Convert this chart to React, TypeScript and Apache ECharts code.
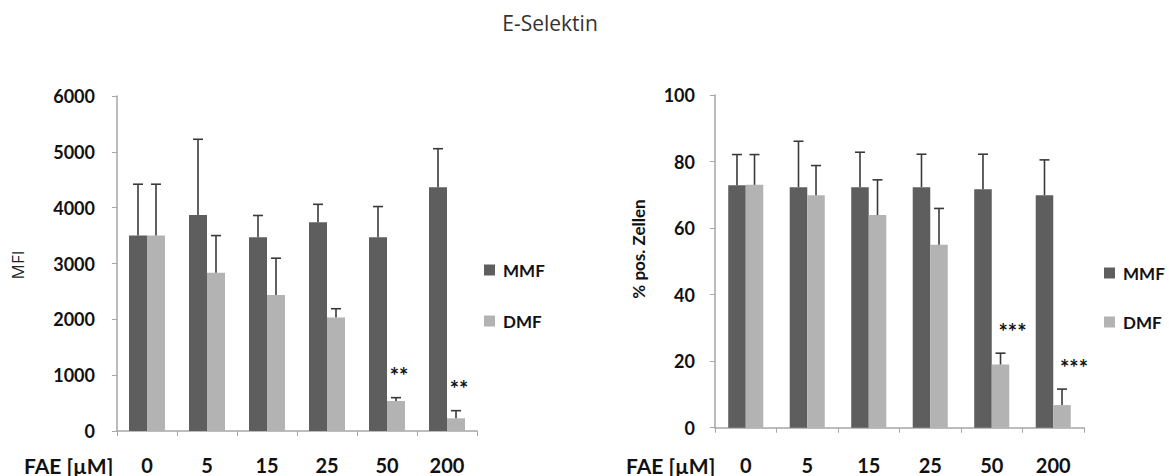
import React, { useEffect, useRef } from "react";
import * as echarts from "echarts";

const categories = ["0", "5", "15", "25", "50", "200"];

// Left chart: MFI
const mfiMMF = [3500, 3870, 3470, 3740, 3470, 4365];
const mfiMMFErr = [4420, 5225, 3860, 4060, 4020, 5056];
const mfiDMF = [3500, 2835, 2435, 2035, 537, 227];
const mfiDMFErr = [4420, 3500, 3095, 2190, 597, 364];
const mfiSig = ["", "", "", "", "**", "**"];

// Right chart: % pos. Zellen
const posMMF = [72.9, 72.3, 72.3, 72.3, 71.7, 69.9];
const posMMFErr = [82.1, 86.1, 82.8, 82.2, 82.2, 80.5];
const posDMF = [73.0, 69.9, 63.9, 55.0, 19.0, 6.8];
const posDMFErr = [82.1, 78.8, 74.5, 65.9, 22.4, 11.6];
const posSig = ["", "", "", "", "***", "***"];

const MMF_COLOR = "#5e5e5e";
const DMF_COLOR = "#b3b3b3";
const ERR_COLOR = "#3a3a3a";
const AXIS_COLOR = "#a6a6a6";
const FONT = "Lato";

function errorSeries(
  name: string,
  gridIdx: number,
  base: number[],
  err: number[],
  offset: number,
  sig: string[] | null,
  sigDx: number
) {
  return {
    type: "custom",
    name: name + "_err",
    xAxisIndex: gridIdx,
    yAxisIndex: gridIdx,
    z: 5,
    silent: true,
    data: base.map((v, i) => [i, v, err[i]]),
    renderItem: (params: any, api: any) => {
      const ci = api.value(0);
      const p0 = api.coord([ci, api.value(1)]);
      const p1 = api.coord([ci, api.value(2)]);
      const band = api.size([1, 0])[0];
      const x = p0[0] + offset * band;
      const children: any[] = [
        {
          type: "line",
          shape: { x1: x, y1: p0[1], x2: x, y2: p1[1] },
          style: { stroke: ERR_COLOR, lineWidth: 1.6 },
        },
        {
          type: "line",
          shape: { x1: x - 5, y1: p1[1], x2: x + 5, y2: p1[1] },
          style: { stroke: ERR_COLOR, lineWidth: 1.6 },
        },
      ];
      const s = sig ? sig[params.dataIndex] : "";
      if (s) {
        children.push({
          type: "text",
          x: x + sigDx,
          y: p1[1] - 22,
          style: {
            text: s,
            fill: "#111",
            font: `bold 22px ${FONT}`,
            align: "center",
            verticalAlign: "middle",
          },
        });
      }
      return { type: "group", children };
    },
  };
}

export default function App() {
  const ref = useRef<HTMLDivElement>(null);
  useEffect(() => {
    if (!ref.current) return;
    const chart = echarts.init(ref.current, undefined, { renderer: "svg" });
    const xAxisCommon = (gridIndex: number, margin: number) => ({
      type: "category",
      gridIndex,
      data: categories,
      axisLine: { lineStyle: { color: AXIS_COLOR, width: 1.5 } },
      axisTick: { show: true, length: 5, lineStyle: { color: AXIS_COLOR } },
      axisLabel: {
        margin,
        color: "#111",
        fontFamily: FONT,
        fontWeight: "bold",
        fontSize: 20,
      },
    });
    const yAxisCommon = (gridIndex: number, max: number, interval: number, margin: number) => ({
      type: "value",
      gridIndex,
      min: 0,
      max,
      interval,
      splitLine: { show: false },
      axisLine: { show: true, lineStyle: { color: AXIS_COLOR, width: 1.5 } },
      axisTick: { show: true, length: 5, lineStyle: { color: AXIS_COLOR } },
      axisLabel: {
        margin,
        color: "#111",
        fontFamily: FONT,
        fontWeight: "bold",
        fontSize: 18,
        formatter: (v: number) => String(v),
      },
    });
    const legendCommon = (left: number, top: number, gap: number) => ({
      orient: "vertical",
      left,
      top,
      itemWidth: 11,
      itemHeight: 11,
      itemGap: gap,
      icon: "rect",
      selectedMode: false,
      data: ["MMF", "DMF"],
      textStyle: {
        fontFamily: FONT,
        fontWeight: "bold",
        fontSize: 17,
        color: "#111",
        lineHeight: 20,
        padding: [0, 0, 0, 3],
      },
    });

    chart.setOption({
      animation: false,
      backgroundColor: "#ffffff",
      grid: [
        { left: 117, top: 96, width: 360, height: 335 },
        { left: 715, top: 95, width: 369, height: 332.7 },
      ],
      xAxis: [xAxisCommon(0, 24), xAxisCommon(1, 27)],
      yAxis: [yAxisCommon(0, 6000, 1000, 22), yAxisCommon(1, 100, 20, 20)],
      legend: [legendCommon(479, 255, 31), legendCommon(1099, 258, 29)],
      series: [
        {
          type: "bar",
          name: "MMF",
          xAxisIndex: 0,
          yAxisIndex: 0,
          data: mfiMMF,
          barWidth: "30%",
          barGap: "0%",
          itemStyle: { color: MMF_COLOR },
        },
        {
          type: "bar",
          name: "DMF",
          xAxisIndex: 0,
          yAxisIndex: 0,
          data: mfiDMF,
          barWidth: "30%",
          barGap: "0%",
          itemStyle: { color: DMF_COLOR },
        },
        {
          type: "bar",
          name: "MMF",
          xAxisIndex: 1,
          yAxisIndex: 1,
          data: posMMF,
          barWidth: "28.5%",
          barGap: "0%",
          itemStyle: { color: MMF_COLOR },
        },
        {
          type: "bar",
          name: "DMF",
          xAxisIndex: 1,
          yAxisIndex: 1,
          data: posDMF,
          barWidth: "28.5%",
          barGap: "0%",
          itemStyle: { color: DMF_COLOR },
        },
        errorSeries("MMF", 0, mfiMMF, mfiMMFErr, -0.15, null, 0),
        errorSeries("DMF", 0, mfiDMF, mfiDMFErr, 0.15, mfiSig, 3),
        errorSeries("MMF", 1, posMMF, posMMFErr, -0.1425, null, 0),
        errorSeries("DMF", 1, posDMF, posDMFErr, 0.1425, posSig, 12),
      ],
      graphic: [
        {
          type: "text",
          x: 550,
          y: 23,
          style: {
            text: "E-Selektin",
            font: `21px 'Open Sans'`,
            fill: "#333",
            align: "center",
            verticalAlign: "middle",
          },
        },
        {
          type: "text",
          x: 24,
          y: 465,
          style: {
            text: "FAE [µM]",
            font: `bold 21px ${FONT}`,
            fill: "#111",
            align: "left",
            verticalAlign: "middle",
          },
        },
        {
          type: "text",
          x: 626,
          y: 465,
          style: {
            text: "FAE [µM]",
            font: `bold 21px ${FONT}`,
            fill: "#111",
            align: "left",
            verticalAlign: "middle",
          },
        },
        {
          type: "text",
          x: 17,
          y: 265,
          rotation: Math.PI / 2,
          style: {
            text: "MFI",
            font: `17px 'Open Sans'`,
            fill: "#222",
            align: "center",
            verticalAlign: "middle",
          },
        },
        {
          type: "text",
          x: 638,
          y: 249,
          rotation: Math.PI / 2,
          style: {
            text: "% pos. Zellen",
            font: `bold 17px ${FONT}`,
            fill: "#111",
            align: "center",
            verticalAlign: "middle",
          },
        },
      ],
    });
    return () => chart.dispose();
  }, []);
  return (
    <div
      ref={ref}
      style={{ position: "absolute", left: 0, top: 0, width: 1169, height: 476 }}
    />
  );
}
